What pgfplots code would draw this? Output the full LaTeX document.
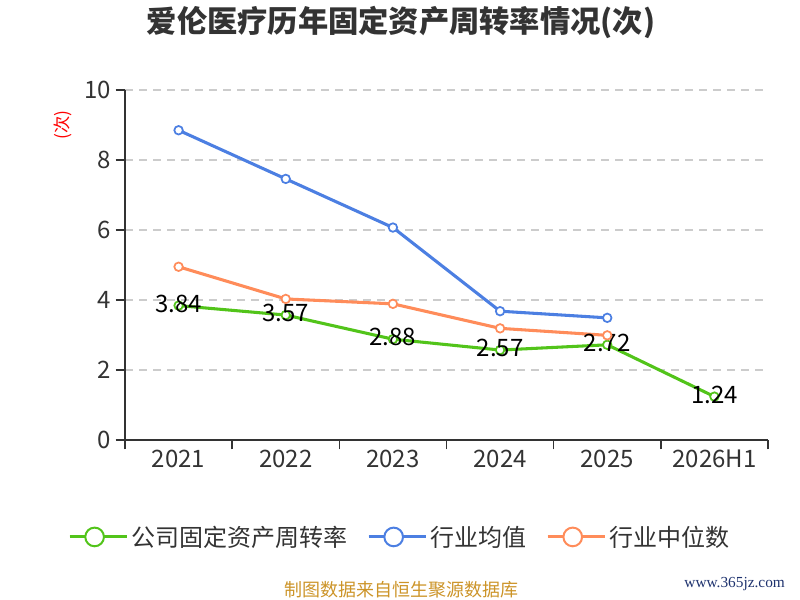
\documentclass[border=0pt]{standalone}
\usepackage{pgfplots}
\pgfplotsset{compat=1.18}
\usepackage{fontspec}
\setmainfont{Noto Sans CJK SC}
\newfontfamily\wmfont{Liberation Serif}
\definecolor{cgreen}{RGB}{82,196,26}
\definecolor{cblue}{RGB}{76,127,226}
\definecolor{corange}{RGB}{255,140,90}
\definecolor{axisgray}{RGB}{51,51,51}
\definecolor{gridgray}{RGB}{204,204,204}
\definecolor{srcgold}{RGB}{204,148,40}
\definecolor{wmblue}{RGB}{30,50,110}
\begin{document}
\begin{tikzpicture}
\path[use as bounding box] (0,0) rectangle (600pt,450pt);
\begin{axis}[
  at={(93.75pt,120pt)}, anchor=south west, scale only axis,
  width=482.25pt, height=262.5pt,
  xmin=-0.5, xmax=5.5, ymin=0, ymax=10,
  axis lines=left, axis line style={-, draw=axisgray, line width=1.2pt},
  ytick={0,2,4,6,8,10}, ymajorgrids,
  grid style={gridgray, line width=0.9pt, dash pattern=on 6pt off 4.5pt},
  xtick={-0.5,0.5,1.5,2.5,3.5,4.5,5.5}, xticklabels={},
  extra x ticks={0,1,2,3,4,5},
  extra x tick labels={2021,2022,2023,2024,2025,2026H1},
  extra x tick style={major tick length=0pt, xticklabel style={yshift=-4pt}},
  tick align=outside, major tick length=7pt,
  tick style={axisgray, line width=1.2pt},
  ticklabel style={font=\fontsize{18}{20}\selectfont, text=axisgray},
  /pgf/number format/assume math mode=true,
  ylabel={(次)},
  ylabel style={at={(rel axis cs:-0.0964,0.9)}, anchor=center, text=red, font=\fontsize{13}{14}\selectfont},
  legend columns=3,
  legend style={at={(0.4277,-0.277)}, anchor=center, draw=none, fill=none,
    font=\fontsize{18}{20}\selectfont, text=axisgray,
    /tikz/every even column/.append style={column sep=13pt}},
  legend image code/.code={
    \path (0pt,0pt) -- (43pt,0pt);
    \draw[#1, line width=1.5pt] (0pt,0pt) -- (37.5pt,0pt);
    \draw[#1, line width=1.5pt, fill=white] (18.75pt,0pt) circle (7pt);
  },
]
\addplot[color=cgreen, line width=2.3pt, mark=*, mark size=3.2pt,
  mark options={fill=white, draw=cgreen, line width=1.3pt},
  point meta=explicit symbolic, nodes near coords,
  every node near coord/.append style={anchor=center, yshift=1.5pt, text=black, font=\fontsize{18}{20}\selectfont}]
  coordinates {(0,3.84) [3.84] (1,3.57) [3.57] (2,2.88) [2.88] (3,2.57) [2.57] (4,2.72) [2.72] (5,1.24) [1.24]};
\addlegendentry{公司固定资产周转率}
\addplot[color=cblue, line width=2.3pt, mark=*, mark size=3.2pt,
  mark options={fill=white, draw=cblue, line width=1.3pt}]
  coordinates {(0,8.85) (1,7.46) (2,6.07) (3,3.68) (4,3.49)};
\addlegendentry{行业均值}
\addplot[color=corange, line width=2.3pt, mark=*, mark size=3.2pt,
  mark options={fill=white, draw=corange, line width=1.3pt}]
  coordinates {(0,4.95) (1,4.03) (2,3.89) (3,3.19) (4,2.99)};
\addlegendentry{行业中位数}
\end{axis}
\node[font=\fontsize{22.7}{26}\selectfont\bfseries, text=axisgray] at (300.75pt,433.5pt) {爱伦医疗历年固定资产周转率情况(次)};
\node[font=\fontsize{13.5}{15}\selectfont, text=srcgold] at (300.75pt,7.5pt) {制图数据来自恒生聚源数据库};
\node[font=\wmfont\fontsize{11.5}{13}\selectfont, text=wmblue] at (551pt,12pt) {www.365jz.com};
\end{tikzpicture}
\end{document}
